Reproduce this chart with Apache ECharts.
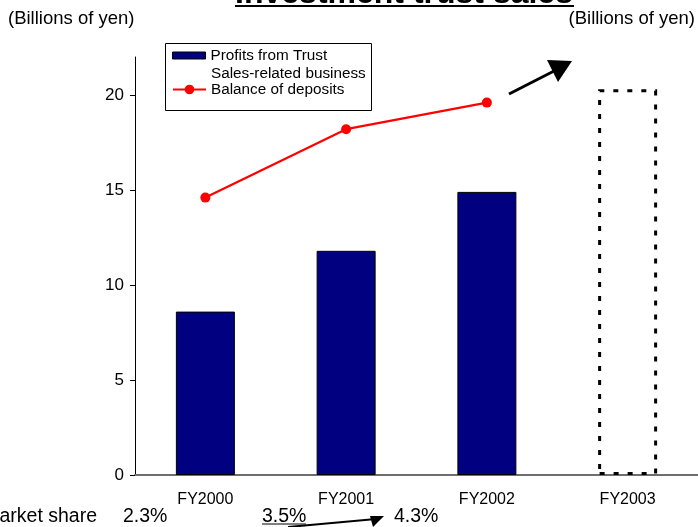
<!DOCTYPE html>
<html>
<head>
<meta charset="utf-8">
<style>
  html, body { margin: 0; padding: 0; background: #fff; }
  #chart { width: 698px; height: 527px; }
</style>
<script src="https://cdn.jsdelivr.net/npm/echarts@6/dist/echarts.min.js"></script>
</head>
<body>
<div id="chart"></div>
<script>
// Fiscal years on the category axis
const categories = ['FY2000', 'FY2001', 'FY2002', 'FY2003'];
// Profits from trust sales (billions of yen); FY2003 is the outlook drawn as an outline
const trustProfits = [8.6, 11.8, 14.9, 20.3];
// Sales-related business: balance of deposits (billions of yen)
const depositBalance = [14.6, 18.2, 19.6, null];
// Market share figures printed under the axis
const marketShare = ['2.3%', '3.5%', '4.3%'];
// Value-axis ticks
const yTicks = [0, 5, 10, 15, 20];

const FONT = "'Liberation Sans', Arial, sans-serif";
const chart = echarts.init(document.getElementById('chart'), null, { renderer: 'canvas' });

const barData = trustProfits.map((v, i) => i === 3 ? {
  value: v,
  itemStyle: {
    color: 'rgba(0,0,0,0)',
    borderColor: '#000',
    borderWidth: 3,
    borderType: [5, 9]
  }
} : v);

const legendText = { fontFamily: FONT, fontSize: 15.3, color: '#000', lineHeight: 14 };

chart.setOption({
  animation: false,
  backgroundColor: '#fff',
  textStyle: { fontFamily: FONT },
  grid: { left: 135, right: -5, top: 57, bottom: 52, containLabel: false },
  legend: [
    {
      left: 172, top: 48, padding: 0,
      itemWidth: 33, itemHeight: 7,
      icon: 'rect',
      itemStyle: { borderColor: '#000', borderWidth: 1 },
      data: ['Profits from Trust'],
      textStyle: legendText,
      z: 6
    },
    {
      left: 172, top: 82, padding: 0,
      itemWidth: 33, itemHeight: 12,
      data: ['Balance of deposits'],
      textStyle: legendText,
      z: 6
    }
  ],
  xAxis: {
    type: 'category',
    data: categories,
    axisLine: { lineStyle: { color: '#6e6e6e', width: 2 } },
    axisTick: { inside: true, length: 4, lineStyle: { color: '#6e6e6e', width: 1 } },
    axisLabel: { color: '#000', fontSize: 16, fontFamily: FONT, margin: 17 },
    splitLine: { show: false }
  },
  yAxis: {
    type: 'value',
    min: 0,
    max: 22,
    interval: 5,
    axisLine: { show: true, lineStyle: { color: '#000', width: 1 } },
    axisTick: { show: true, length: 5, customValues: yTicks, lineStyle: { color: '#000' } },
    axisLabel: { color: '#000', fontSize: 17, fontFamily: FONT, margin: 11, customValues: yTicks },
    splitLine: { show: false }
  },
  series: [
    {
      name: 'Profits from Trust',
      type: 'bar',
      data: barData,
      barWidth: 59,
      itemStyle: { color: '#000080', borderColor: '#000', borderWidth: 1 },
      z: 2
    },
    {
      name: 'Balance of deposits',
      type: 'line',
      data: depositBalance,
      symbol: 'circle',
      symbolSize: 10,
      lineStyle: { color: '#ff0000', width: 2.2 },
      itemStyle: { color: '#ff0000' },
      z: 3
    }
  ],
  graphic: [
    // Title, mostly above the top edge
    {
      type: 'text', x: 404, y: -6, z: 10,
      style: { text: 'Investment trust sales', font: 'bold 32px ' + FONT, fill: '#000', align: 'center', verticalAlign: 'middle' }
    },
    { type: 'line', z: 10, shape: { x1: 235, y1: 6, x2: 574, y2: 6 }, style: { stroke: '#000', lineWidth: 2 } },
    // Unit labels
    {
      type: 'text', x: 8, y: 19, z: 10,
      style: { text: '(Billions of yen)', font: '18.5px ' + FONT, fill: '#000', align: 'left', verticalAlign: 'middle' }
    },
    {
      type: 'text', x: 695, y: 19, z: 10,
      style: { text: '(Billions of yen)', font: '18.5px ' + FONT, fill: '#000', align: 'right', verticalAlign: 'middle' }
    },
    // Legend frame and the first line of the two-line series caption
    {
      type: 'rect', z: 5, silent: true,
      shape: { x: 165.5, y: 43.5, width: 206, height: 67 },
      style: { fill: '#fff', stroke: '#000', lineWidth: 1 }
    },
    {
      type: 'text', x: 211, y: 74, z: 7,
      style: { text: 'Sales-related business', font: '15.3px ' + FONT, fill: '#000', align: 'left', verticalAlign: 'middle' }
    },
    // Upward arrow toward the FY2003 outlook
    { type: 'line', z: 10, shape: { x1: 509, y1: 94, x2: 556, y2: 70 }, style: { stroke: '#000', lineWidth: 3 } },
    { type: 'polygon', z: 10, shape: { points: [[572, 61], [558, 82], [547, 60]] }, style: { fill: '#000' } },
    // Market share row
    {
      type: 'text', x: 97, y: 517, z: 10,
      style: { text: 'Market share', font: '19.5px ' + FONT, fill: '#000', align: 'right', verticalAlign: 'middle' }
    },
    {
      type: 'text', x: 123, y: 517, z: 10,
      style: { text: marketShare[0], font: '19.5px ' + FONT, fill: '#000', align: 'left', verticalAlign: 'middle' }
    },
    {
      type: 'text', x: 262, y: 517, z: 10,
      style: { text: marketShare[1], font: '19.5px ' + FONT, fill: '#000', align: 'left', verticalAlign: 'middle' }
    },
    {
      type: 'text', x: 394, y: 517, z: 10,
      style: { text: marketShare[2], font: '19.5px ' + FONT, fill: '#000', align: 'left', verticalAlign: 'middle' }
    },
    { type: 'line', z: 10, shape: { x1: 262, y1: 524, x2: 306, y2: 524 }, style: { stroke: '#000', lineWidth: 1 } },
    { type: 'line', z: 10, shape: { x1: 288, y1: 527, x2: 376, y2: 519 }, style: { stroke: '#000', lineWidth: 2 } },
    { type: 'polygon', z: 10, shape: { points: [[384, 516], [370, 516], [373, 527]] }, style: { fill: '#000' } }
  ]
});
</script>
</body>
</html>
